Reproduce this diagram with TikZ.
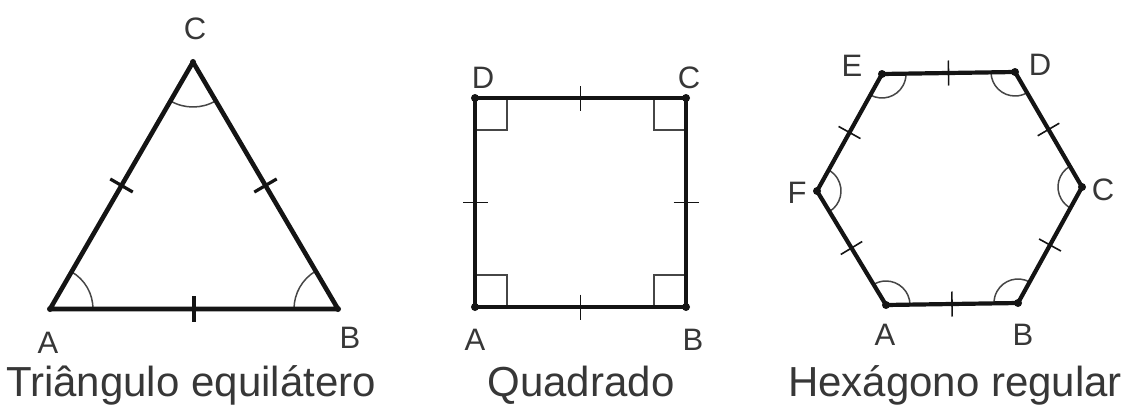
\documentclass[tikz,border=0pt]{standalone}
\usepackage{fontspec}
\setmainfont{Liberation Sans}
\usetikzlibrary{calc,angles}
\definecolor{txt}{RGB}{55,55,55}
\definecolor{ln}{RGB}{20,20,20}
\definecolor{thin}{RGB}{70,70,70}
\tikzset{
  side/.style={draw=ln,line width=4.2pt,line join=round},
  sideT/.style={draw=ln,line width=4.6pt,line join=round},
  tickT/.style={draw=ln,line width=3.2pt},
  tickS/.style={draw=ln,line width=1.6pt},
  arcS/.style={draw=thin,line width=1.5pt},
  vdot/.style={fill=ln,circle,inner sep=0pt,minimum size=8pt},
  lab/.style={text=txt,font=\fontsize{31}{36}\selectfont,anchor=base,inner sep=0pt},
  ttl/.style={text=txt,font=\fontsize{42}{48}\selectfont,anchor=base,inner sep=0pt},
}
\begin{document}
\begin{tikzpicture}[x=1pt,y=-1pt]
\useasboundingbox (0,0) rectangle (1134,412);
% ---------- Triangle ----------
\coordinate (TA) at (50,309);
\coordinate (TB) at (338,309);
\coordinate (TC) at (193,62);
\path (TB) -- (TA) -- (TC)
  pic[arcS,angle radius=43pt]{angle=TB--TA--TC}
  pic[arcS,angle radius=44pt]{angle=TC--TB--TA}
  pic[arcS,angle radius=45pt]{angle=TA--TC--TB};
\draw[sideT] (TA) -- (TB) -- (TC) -- cycle;
\foreach \p/\q in {TA/TB,TB/TC,TC/TA}
  \draw[tickT] ($(\p)!0.5!(\q)!13pt!90:(\q)$) -- ($(\p)!0.5!(\q)!13pt!-90:(\q)$);
\foreach \p in {TA,TB,TC} \node[vdot,minimum size=6pt] at (\p) {};
\node[lab] (lTA) at (48,353) {A};
\node[lab] (lTB) at (350,348) {B};
\node[lab] (lTC) at (195,40) {C};
\node[ttl] (tT) at (191,396) {Triângulo equilátero};
% ---------- Square ----------
\coordinate (SA) at (475,307);
\coordinate (SB) at (686,307);
\coordinate (SC) at (686,98);
\coordinate (SD) at (475,98);
\draw[arcS] ($(SA)+(32,0)$) -- ++(0,-32) -- ++(-32,0);
\draw[arcS] ($(SB)+(-32,0)$) -- ++(0,-32) -- ++(32,0);
\draw[arcS] ($(SC)+(-32,0)$) -- ++(0,32) -- ++(32,0);
\draw[arcS] ($(SD)+(32,0)$) -- ++(0,32) -- ++(-32,0);
\draw[side] (SA) -- (SB) -- (SC) -- (SD) -- cycle;
\foreach \p/\q in {SA/SB,SB/SC,SC/SD,SD/SA}
  \draw[tickS] ($(\p)!0.5!(\q)!12.5pt!90:(\q)$) -- ($(\p)!0.5!(\q)!12.5pt!-90:(\q)$);
\foreach \p in {SA,SB,SC,SD} \node[vdot] at (\p) {};
\node[lab] (lSA) at (475,350) {A};
\node[lab] (lSB) at (693,350) {B};
\node[lab] (lSC) at (689,88) {C};
\node[lab] (lSD) at (483,88) {D};
\node[ttl] (tS) at (581,396) {Quadrado};
% ---------- Hexagon ----------
\coordinate (HA) at (886,305);
\coordinate (HB) at (1018,303);
\coordinate (HC) at (1082,187);
\coordinate (HD) at (1015,72);
\coordinate (HE) at (882,74);
\coordinate (HF) at (817,191);
\path (HA) -- (HB)
  pic[arcS,angle radius=24pt]{angle=HB--HA--HF}
  pic[arcS,angle radius=24pt]{angle=HC--HB--HA}
  pic[arcS,angle radius=24pt]{angle=HD--HC--HB}
  pic[arcS,angle radius=24pt]{angle=HE--HD--HC}
  pic[arcS,angle radius=24pt]{angle=HF--HE--HD}
  pic[arcS,angle radius=24pt]{angle=HA--HF--HE};
\draw[side] (HA) -- (HB) -- (HC) -- (HD) -- (HE) -- (HF) -- cycle;
\foreach \p/\q in {HA/HB,HB/HC,HC/HD,HD/HE,HE/HF,HF/HA}
  \draw[tickS] ($(\p)!0.5!(\q)!12.5pt!90:(\q)$) -- ($(\p)!0.5!(\q)!12.5pt!-90:(\q)$);
\foreach \p in {HA,HB,HC,HD,HE,HF} \node[vdot] at (\p) {};
\node[lab] (lHA) at (885,345) {A};
\node[lab] (lHB) at (1023,345) {B};
\node[lab] (lHC) at (1103,200) {C};
\node[lab] (lHD) at (1040,75) {D};
\node[lab] (lHE) at (852,77) {E};
\node[lab] (lHF) at (797,203) {F};
\node[ttl] (tH) at (955,396) {Hexágono regular};
\end{tikzpicture}
\end{document}
